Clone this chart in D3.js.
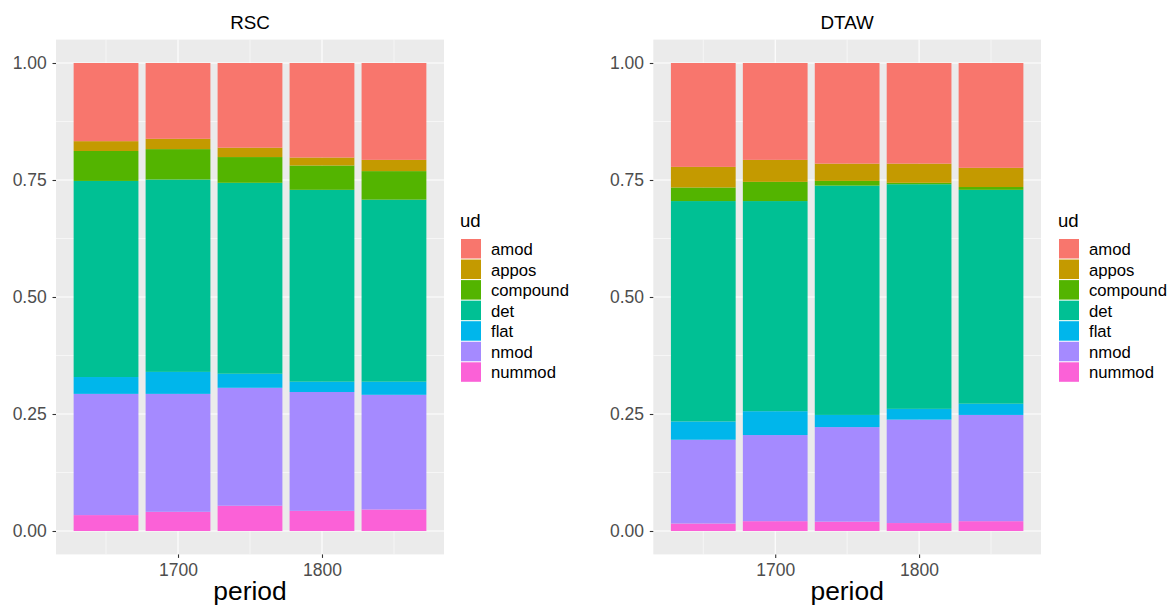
<!DOCTYPE html>
<html><head><meta charset="utf-8">
<script src="https://cdn.jsdelivr.net/npm/d3@7"></script>
<style>body{margin:0;background:#fff}svg{display:block}text{font-family:"Liberation Sans",Arial,sans-serif}</style>
</head><body><svg id="c" width="1168" height="605"></svg>
<script>
const periods = [1650, 1700, 1750, 1800, 1850];
const categories = ["amod","appos","compound","det","flat","nmod","nummod"];
const colors = ["#F8766D","#C49A00","#53B400","#00C094","#00B6EB","#A58AFF","#FB61D7"];
const xTicks = [1700, 1800];
const yTicks = [0, 0.25, 0.5, 0.75, 1];
// proportions per period, order: amod, appos, compound, det, flat, nmod, nummod
const rscAmod     = [0.167, 0.162, 0.181, 0.202, 0.207];
const rscAppos    = [0.021, 0.022, 0.020, 0.017, 0.024];
const rscCompound = [0.064, 0.065, 0.055, 0.052, 0.061];
const rscDet      = [0.419, 0.411, 0.408, 0.410, 0.389];
const rscFlat     = [0.036, 0.047, 0.030, 0.022, 0.028];
const rscNmod     = [0.259, 0.252, 0.252, 0.254, 0.245];
const rscNummod   = [0.034, 0.041, 0.054, 0.043, 0.046];
const dtawAmod     = [0.222, 0.207, 0.215, 0.215, 0.224];
const dtawAppos    = [0.044, 0.047, 0.037, 0.041, 0.041];
const dtawCompound = [0.029, 0.041, 0.010, 0.003, 0.006];
const dtawDet      = [0.471, 0.449, 0.490, 0.480, 0.457];
const dtawFlat     = [0.039, 0.051, 0.026, 0.023, 0.024];
const dtawNmod     = [0.179, 0.184, 0.202, 0.221, 0.227];
const dtawNummod   = [0.016, 0.021, 0.020, 0.017, 0.021];

const panels = [
  {title:"RSC", series:[rscAmod,rscAppos,rscCompound,rscDet,rscFlat,rscNmod,rscNummod], x0:56, x1:444, legX:461},
  {title:"DTAW", series:[dtawAmod,dtawAppos,dtawCompound,dtawDet,dtawFlat,dtawNmod,dtawNummod], x0:653.3, x1:1041, legX:1059}
];
const svg = d3.select("#c");
const yTop = 39.6, yBot = 554.4;
const color = d3.scaleOrdinal(categories, colors);

panels.forEach(p => {
  const g = svg.append("g");
  const x = d3.scaleLinear().domain([1615.25, 1884.75]).range([p.x0, p.x1]);
  const y = d3.scaleLinear().domain([-0.05, 1.05]).range([yBot, yTop]);
  g.append("rect").attr("x",p.x0).attr("y",yTop).attr("width",p.x1-p.x0).attr("height",yBot-yTop).attr("fill","#EBEBEB");
  // minor grid
  [0.125,0.375,0.625,0.875].forEach(v=>g.append("line").attr("x1",p.x0).attr("x2",p.x1).attr("y1",y(v)).attr("y2",y(v)).attr("stroke","#fff").attr("stroke-width",0.55));
  [1650,1750,1850].forEach(v=>g.append("line").attr("y1",yTop).attr("y2",yBot).attr("x1",x(v)).attr("x2",x(v)).attr("stroke","#fff").attr("stroke-width",0.55));
  yTicks.forEach(v=>g.append("line").attr("x1",p.x0).attr("x2",p.x1).attr("y1",y(v)).attr("y2",y(v)).attr("stroke","#fff").attr("stroke-width",1.1));
  xTicks.forEach(v=>g.append("line").attr("y1",yTop).attr("y2",yBot).attr("x1",x(v)).attr("x2",x(v)).attr("stroke","#fff").attr("stroke-width",1.1));
  // stacked data
  const rows = periods.map((pr,i)=>{const r={period:pr}; categories.forEach((c,k)=>r[c]=p.series[k][i]); return r;});
  const stack = d3.stack().keys(categories.slice().reverse())(rows);
  stack.forEach(layer=>{
    g.append("g").attr("fill",color(layer.key)).selectAll("rect").data(layer).join("rect")
      .attr("x",d=>x(d.data.period-22.5)).attr("width",d=>x(d.data.period+22.5)-x(d.data.period-22.5))
      .attr("y",d=>y(d[1])).attr("height",d=>y(d[0])-y(d[1]));
  });
  // axes
  const ya = g.append("g").attr("transform",`translate(${p.x0},0)`).call(d3.axisLeft(y).tickValues(yTicks).tickFormat(d3.format(".2f")).tickSize(3.5).tickPadding(5.8));
  const xa = g.append("g").attr("transform",`translate(0,${yBot})`).call(d3.axisBottom(x).tickValues(xTicks).tickFormat(d3.format("d")).tickSize(3.5).tickPadding(5.5));
  [ya,xa].forEach(a=>{a.select(".domain").remove(); a.selectAll("line").attr("stroke","#333").attr("stroke-width",1.1); a.selectAll("text").attr("fill","#4D4D4D").attr("font-size",17.5);});
  g.append("text").attr("x",(p.x0+p.x1)/2).attr("y",29).attr("text-anchor","middle").attr("font-size",18.8).attr("fill","#000").text(p.title);
  g.append("text").attr("x",(p.x0+p.x1)/2).attr("y",600).attr("text-anchor","middle").attr("font-size",26.4).attr("fill","#000").text("period");
  // legend
  const lg = g.append("g").attr("transform",`translate(${p.legX},0)`);
  lg.append("text").attr("x",-1).attr("y",227).attr("font-size",18.6).attr("fill","#000").text("ud");
  categories.forEach((c,k)=>{
    lg.append("rect").attr("x",0).attr("y",239+k*20.55).attr("width",20).attr("height",19.5).attr("fill",color(c));
    lg.append("text").attr("x",30).attr("y",239+k*20.55+16).attr("font-size",16.7).attr("fill","#000").text(c);
  });
});
</script></body></html>
